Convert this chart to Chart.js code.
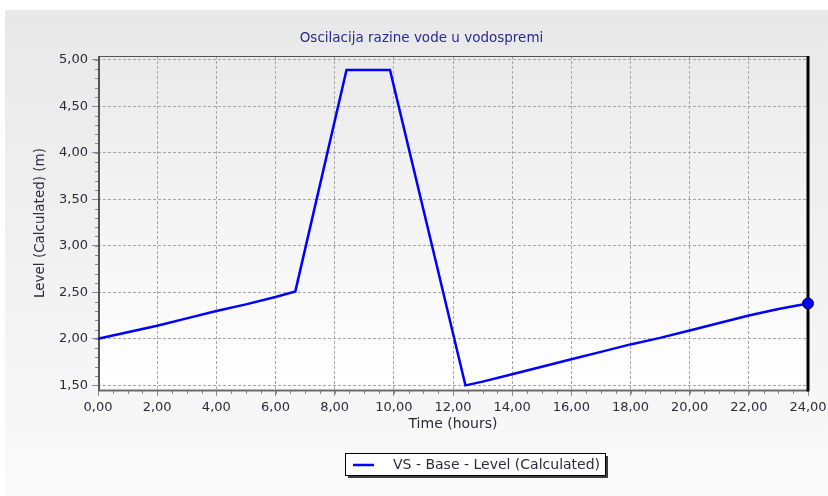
<!DOCTYPE html>
<html>
<head>
<meta charset="utf-8">
<script src="https://cdn.jsdelivr.net/npm/chart.js@4"></script>
<style>
  html, body { margin: 0; padding: 0; background: #fff; }
  #wrap { width: 828px; height: 496px; }
</style>
</head>
<body>
<div id="wrap"><canvas id="levelChart" width="828" height="496"></canvas></div>
<script>
// Tank level over one day
const hours = [0, 1, 2, 3, 4, 5, 6, 6.67, 8.4, 9.87, 12.42, 13, 14, 15, 16, 17, 18, 19, 20, 21, 22, 23, 24];
const level = [2.00, 2.07, 2.14, 2.22, 2.30, 2.37, 2.45, 2.51, 4.89, 4.89, 1.50, 1.54, 1.62, 1.70, 1.78, 1.86, 1.94, 2.01, 2.09, 2.17, 2.25, 2.32, 2.38];

const seriesName = 'VS - Base - Level (Calculated)';
const chartTitle = 'Oscilacija razine vode u vodospremi';
const xTitle = 'Time (hours)';
const yTitle = 'Level (Calculated) (m)';

const FONT = 'DejaVu Sans';
const fmt = v => v.toFixed(2).replace('.', ',');

// panel + plot backgrounds
const backdrop = {
  id: 'backdrop',
  afterLayout(chart) {
    // nudge the title a bit right so it sits over the plot
    if (chart.titleBlock) {
      chart.titleBlock.left += 15;
      chart.titleBlock.right += 15;
    }
  },
  beforeDraw(chart) {
    const {ctx, chartArea: a} = chart;
    ctx.save();
    ctx.fillStyle = '#ffffff';
    ctx.fillRect(0, 0, chart.width, chart.height);
    let g = ctx.createLinearGradient(0, 10, 0, chart.height);
    g.addColorStop(0, '#e8e8e8');
    g.addColorStop(1, '#fafafa');
    ctx.fillStyle = g;
    ctx.fillRect(5, 10, chart.width - 5, chart.height - 10);
    g = ctx.createLinearGradient(0, a.top, 0, a.bottom);
    g.addColorStop(0, '#eaeaea');
    g.addColorStop(1, '#ffffff');
    ctx.fillStyle = g;
    ctx.fillRect(a.left, a.top, a.right - a.left, a.bottom - a.top);
    ctx.restore();
  }
};

// frame around the plot and the small minor ticks
const frame = {
  id: 'frame',
  beforeDatasetsDraw(chart) {
    const {ctx, chartArea: a, scales: {x, y}} = chart;
    ctx.save();
    ctx.strokeStyle = '#8a8a8a';
    ctx.lineWidth = 1;
    ctx.beginPath();
    for (let v = 0; v <= 24.001; v += 0.5) {
      const px = Math.round(x.getPixelForValue(v)) + 0.5;
      ctx.moveTo(px, a.bottom);
      ctx.lineTo(px, a.bottom + 4);
    }
    for (let v = 1.5; v <= 5.001; v += 0.1) {
      const py = Math.round(y.getPixelForValue(v)) + 0.5;
      ctx.moveTo(a.left - 3, py);
      ctx.lineTo(a.left, py);
    }
    ctx.stroke();

    ctx.strokeStyle = '#555555';
    ctx.lineWidth = 1;
    ctx.beginPath();
    ctx.moveTo(a.left, a.top + 0.5);
    ctx.lineTo(a.right, a.top + 0.5);
    ctx.stroke();

    ctx.lineWidth = 2;
    ctx.beginPath();
    ctx.moveTo(a.left + 1, a.top);
    ctx.lineTo(a.left + 1, a.bottom);
    ctx.stroke();

    ctx.strokeStyle = '#6a6a6a';
    ctx.lineWidth = 2;
    ctx.beginPath();
    ctx.moveTo(a.left, a.bottom + 0.5);
    ctx.lineTo(a.right, a.bottom + 0.5);
    ctx.stroke();

    ctx.strokeStyle = '#000000';
    ctx.lineWidth = 3;
    ctx.beginPath();
    ctx.moveTo(a.right, a.top);
    ctx.lineTo(a.right, a.bottom + 1.5);
    ctx.stroke();
    ctx.restore();
  }
};

// boxed legend with drop shadow under the axis title
const legendBox = {
  id: 'legendBox',
  afterDraw(chart) {
    const {ctx} = chart;
    const ds = chart.data.datasets[0];
    const bx = 345, by = 453, bw = 260, bh = 22;
    ctx.save();
    ctx.fillStyle = '#3c3c3c';
    ctx.fillRect(bx + 3, by + 3, bw, bh);
    ctx.fillStyle = '#ffffff';
    ctx.fillRect(bx, by, bw, bh);
    ctx.strokeStyle = '#000000';
    ctx.lineWidth = 1;
    ctx.strokeRect(bx + 0.5, by + 0.5, bw, bh);
    ctx.strokeStyle = ds.borderColor;
    ctx.lineWidth = 2.5;
    ctx.beginPath();
    ctx.moveTo(bx + 8, by + bh / 2 + 1);
    ctx.lineTo(bx + 29, by + bh / 2 + 1);
    ctx.stroke();
    ctx.fillStyle = '#2b2b3b';
    ctx.font = '14px "' + FONT + '"';
    ctx.textBaseline = 'middle';
    ctx.fillText(ds.label, bx + 48, by + bh / 2 + 1);
    ctx.restore();
  }
};

new Chart(document.getElementById('levelChart'), {
  type: 'line',
  data: {
    datasets: [{
      label: seriesName,
      data: hours.map((h, i) => ({x: h, y: level[i]})),
      borderColor: '#0000ff',
      backgroundColor: '#0000ff',
      borderWidth: 2.5,
      tension: 0,
      fill: false,
      clip: false,
      pointRadius: c => c.dataIndex === hours.length - 1 ? 5.5 : 0,
      pointHoverRadius: 0,
      pointBorderColor: '#000066',
      pointBorderWidth: 1,
      pointBackgroundColor: '#0000ff'
    }]
  },
  options: {
    responsive: false,
    animation: false,
    events: [],
    layout: { padding: { top: 10, left: 5, right: 20, bottom: 56 } },
    plugins: {
      legend: { display: false },
      tooltip: { enabled: false },
      title: {
        display: true,
        text: chartTitle,
        color: '#2a2a8c',
        font: { family: FONT, size: 13.5, weight: 'normal' },
        padding: { top: 19.9, bottom: 9.9 }
      }
    },
    scales: {
      x: {
        type: 'linear',
        min: 0,
        max: 24,
        afterFit: s => { s.height = 50; s.paddingLeft = 0; s.paddingRight = 0; },
        border: { display: false, dash: [3, 2] },
        grid: { color: '#a6a6a6', tickColor: '#8a8a8a', tickLength: 6, tickBorderDash: [] },
        ticks: {
          stepSize: 2,
          padding: 4,
          color: '#2b2b3b',
          font: { family: FONT, size: 13 },
          callback: v => fmt(v)
        },
        title: {
          display: true,
          text: xTitle,
          color: '#2b2b3b',
          font: { family: FONT, size: 14 },
          padding: { top: 0, bottom: 7.6 }
        }
      },
      y: {
        type: 'linear',
        min: 1.45,
        max: 5.04,
        afterFit: s => { s.width = 93; },
        border: { display: false, dash: [3, 2] },
        grid: { color: '#a6a6a6', tickColor: '#8a8a8a', tickLength: 6, tickBorderDash: [] },
        ticks: {
          stepSize: 0.5,
          includeBounds: false,
          padding: 4,
          color: '#2b2b3b',
          font: { family: FONT, size: 13 },
          callback: v => fmt(v)
        },
        title: {
          display: true,
          text: yTitle,
          color: '#2b2b3b',
          font: { family: FONT, size: 13.5 },
          padding: { top: 26.9, bottom: 0 }
        }
      }
    }
  },
  plugins: [backdrop, frame, legendBox]
});
</script>
</body>
</html>
